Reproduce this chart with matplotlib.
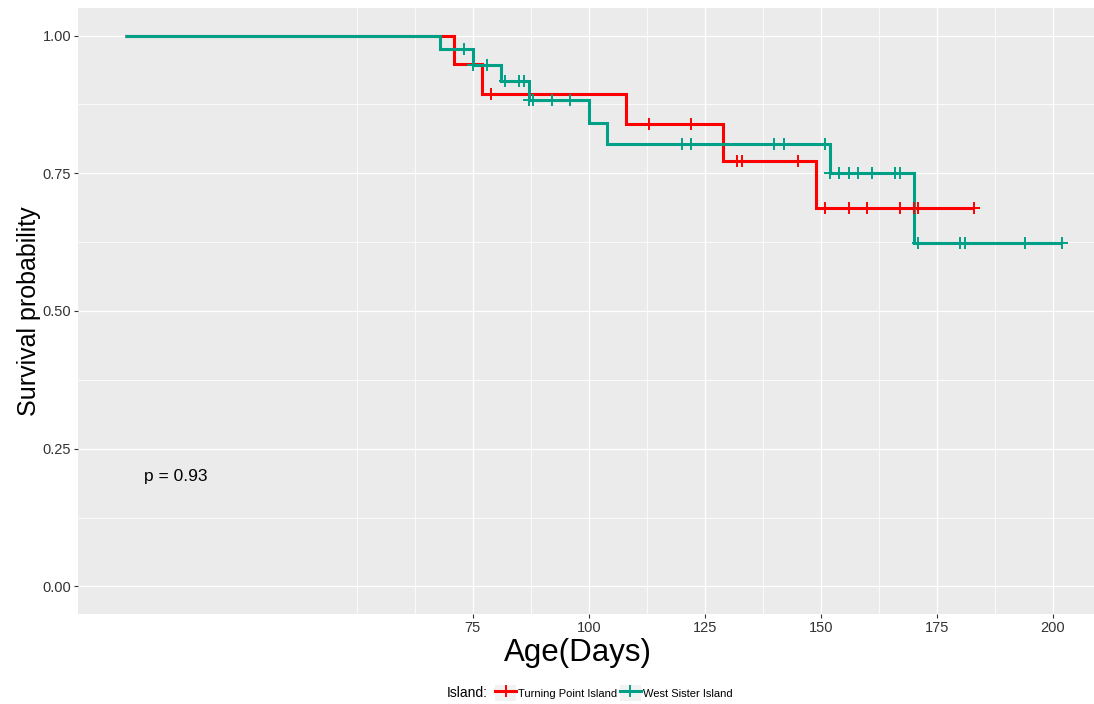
import numpy as np
import matplotlib
matplotlib.use("Agg")
import matplotlib.pyplot as plt
from matplotlib.lines import Line2D
from matplotlib.patches import Rectangle
from matplotlib.legend_handler import HandlerLine2D

plt.rcParams["font.family"] = ["Liberation Sans", "DejaVu Sans"]

# Kaplan-Meier estimates per island: event times, survival after each event,
# and censoring times (drawn as "+" marks on the curve)
groups = ["Turning Point Island", "West Sister Island"]
colors = ["#FF0000", "#00A087"]

tp_event_times = [71, 77, 108, 129, 149]
tp_event_surv = [0.949, 0.894, 0.839, 0.773, 0.687]
tp_censor_times = [79, 113, 122, 132, 133, 145, 151, 156, 160, 167, 170, 171, 183]

ws_event_times = [68, 75, 81, 87, 100, 104, 152, 170]
ws_event_surv = [0.975, 0.946, 0.917, 0.883, 0.842, 0.803, 0.750, 0.624]
ws_censor_times = [73, 75, 78, 82, 85, 86, 87, 88, 92, 96, 120, 122, 140, 142,
                   151, 152, 154, 156, 158, 161, 166, 167, 171, 180, 181, 194, 202]

x_ticks = [75, 100, 125, 150, 175, 200]
y_ticks = [0.00, 0.25, 0.50, 0.75, 1.00]
y_tick_labels = ["0.00", "0.25", "0.50", "0.75", "1.00"]
p_value_text = "p = 0.93"

W, H = 1094, 704
fig = plt.figure(figsize=(W / 100, H / 100), dpi=100)
fig.patch.set_facecolor("white")

x_lim = (-10.1, 212.1)
y_lim = (-0.05, 1.05)
ax = fig.add_axes([78 / W, (H - 614) / H, 1031 / W, (614 - 8) / H])
ax.set_xlim(*x_lim)
ax.set_ylim(*y_lim)
ax.set_facecolor("#EBEBEB")
for sp in ax.spines.values():
    sp.set_visible(False)

# grid: major + minor, white
ax.set_xticks(x_ticks)
ax.set_xticklabels([str(t) for t in x_ticks])
ax.set_xticks([50, 62.5, 87.5, 112.5, 137.5, 162.5, 187.5], minor=True)
ax.set_yticks(y_ticks)
ax.set_yticklabels(y_tick_labels)
ax.set_yticks([0.125, 0.375, 0.625, 0.875], minor=True)
ax.grid(which="major", color="white", linewidth=0.9)
ax.grid(which="minor", color="white", linewidth=0.55)
ax.set_axisbelow(True)
ax.tick_params(which="minor", length=0)
ax.tick_params(which="major", length=3, width=0.8, color="#333333",
               labelsize=10.5, labelcolor="#333333", pad=2)


def km_steps(event_times, event_surv, end_time):
    t = np.concatenate([[0.0], event_times, [end_time]])
    s = np.concatenate([[1.0], event_surv, [event_surv[-1]]])
    return t, s


def surv_at(times, event_times, event_surv):
    levels = np.concatenate([[1.0], event_surv])
    idx = np.searchsorted(event_times, times, side="right")
    return levels[idx]


series = [
    (tp_event_times, tp_event_surv, tp_censor_times),
    (ws_event_times, ws_event_surv, ws_censor_times),
]

for (et, es, ct), col in zip(series, colors):
    t, s = km_steps(np.array(et, float), np.array(es), max(ct))
    ax.step(t, s, where="post", color=col, linewidth=2.2,
            solid_joinstyle="miter", solid_capstyle="butt", zorder=2)

for (et, es, ct), col in zip(series, colors):
    cy = surv_at(np.array(ct, float), np.array(et, float), np.array(es))
    ax.plot(ct, cy, linestyle="none", marker="+", markersize=8,
            markeredgewidth=1.4, color=col, zorder=3)

ax.text(4.04, 0.2, p_value_text, ha="left", va="center", fontsize=12.5,
        color="black")

fig.text(578 / W, 1 - 653 / H, "Age(Days)", ha="center", va="center",
         fontsize=22.5, color="black")
fig.text(29 / W, 1 - 311 / H, "Survival probability", ha="center",
         va="center", rotation=90, fontsize=18, color="black")


class KeyHandler(HandlerLine2D):
    def create_artists(self, legend, orig_handle, xdescent, ydescent,
                       width, height, fontsize, trans):
        bg = Rectangle((-xdescent, -ydescent), width, height,
                       facecolor="#F2F2F2", edgecolor="none", transform=trans)
        arts = super().create_artists(legend, orig_handle, xdescent, ydescent,
                                      width, height, fontsize, trans)
        return [bg] + list(arts)


handles = [Line2D([], [], color=c, linewidth=2.2, marker="+", markersize=8,
                  markeredgewidth=1.4) for c in colors]
fig.text(447 / W, 1 - 693 / H, "Island:", ha="left", va="center",
         fontsize=10, color="black")
fig.legend(handles, groups, loc="center left",
           bbox_to_anchor=(495 / W, 1 - 693 / H), ncol=2, frameon=False,
           fontsize=8, handlelength=1.9, handleheight=1.8, handletextpad=0.2,
           columnspacing=0.2, borderpad=0, borderaxespad=0, numpoints=1,
           handler_map={Line2D: KeyHandler(numpoints=1)})

fig.savefig("out.png", dpi=100)
